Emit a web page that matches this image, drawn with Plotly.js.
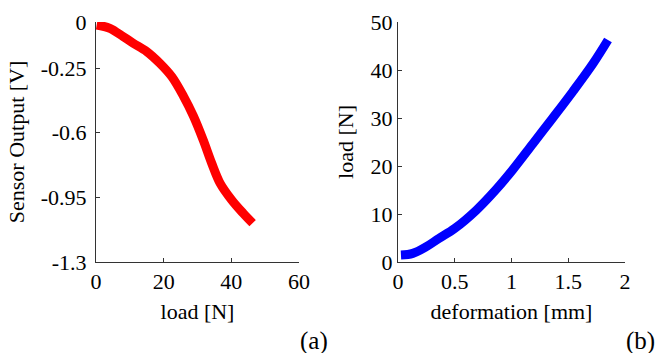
<!DOCTYPE html>
<html>
<head>
<meta charset="utf-8">
<script src="https://cdn.plot.ly/plotly-3.0.1.min.js"></script>
<style>html,body{margin:0;padding:0;background:#fff;}#chart{width:656px;height:353px;}</style>
</head>
<body>
<div id="chart"></div>
<script>
// Panel (a): sensor output vs load
var loadA = [0.2, 4.1, 8.1, 11.0, 15.0, 18.9, 22.4, 25.8, 28.8, 31.7, 34.2, 36.7, 40.1, 43.5, 46.3];
var sensorOut = [-0.016, -0.034, -0.08, -0.115, -0.16, -0.224, -0.296, -0.40, -0.51, -0.64, -0.765, -0.874, -0.964, -1.036, -1.09];
// Panel (b): load vs deformation
var deformation = [0.026, 0.13, 0.25, 0.36, 0.50, 0.69, 0.86, 1.01, 1.19, 1.36, 1.54, 1.72, 1.85];
var loadB = [1.46, 1.8, 3.2, 4.9, 7.0, 10.8, 15.0, 19.2, 24.7, 29.9, 35.5, 41.4, 46.25];

var xTicksA = [0, 20, 40, 60];
var yTicksA = [0, -0.25, -0.6, -0.95, -1.3];
var yTickTextA = ['0', '-0.25', '-0.6', '-0.95', '-1.3'];
var xTicksB = [0, 0.5, 1, 1.5, 2];
var xTickTextB = ['0', '0.5', '1', '1.5', '2'];
var yTicksB = [0, 10, 20, 30, 40, 50];

var font = 'Liberation Serif, Times New Roman, serif';
var axCommon = {
  showline: true, linecolor: '#333', linewidth: 1, mirror: false,
  ticks: 'inside', ticklen: 4, tickcolor: '#333', tickwidth: 1,
  showgrid: false, zeroline: false, automargin: false,
  tickfont: {family: font, size: 22, color: '#000'}
};
function ax(extra) { return Object.assign({}, axCommon, extra); }
var titleFont = {family: font, size: 22, color: '#000'};

var traces = [
  {x: loadA, y: sensorOut, xaxis: 'x', yaxis: 'y', mode: 'lines',
   line: {color: '#ff0000', width: 9, shape: 'spline'}},
  {x: deformation, y: loadB, xaxis: 'x2', yaxis: 'y2', mode: 'lines',
   line: {color: '#0000ff', width: 9, shape: 'spline'}}
];

var W = 656, H = 353;
var layout = {
  width: W, height: H,
  margin: {l: 0, r: 0, t: 0, b: 0},
  paper_bgcolor: '#fff', plot_bgcolor: 'rgba(0,0,0,0)',
  showlegend: false,
  font: {family: font, color: '#000'},
  xaxis: ax({domain: [96 / W, 299 / W], range: [0, 60], anchor: 'y',
    tickvals: xTicksA, ticktext: xTicksA.map(String),
    title: {text: 'load [N]', font: titleFont, standoff: 10}}),
  yaxis: ax({domain: [1 - 262 / H, 1 - 22 / H], range: [-1.3, 0], anchor: 'x',
    tickvals: yTicksA, ticktext: yTickTextA, ticklabelstandoff: 4,
    title: {text: 'Sensor Output [V]', font: titleFont, standoff: 10}}),
  xaxis2: ax({domain: [398 / W, 625 / W], range: [0, 2], anchor: 'y2',
    tickvals: xTicksB, ticktext: xTickTextB,
    title: {text: 'deformation [mm]', font: titleFont, standoff: 10}}),
  yaxis2: ax({domain: [1 - 262 / H, 1 - 22 / H], range: [0, 50], anchor: 'x2',
    tickvals: yTicksB, ticktext: yTicksB.map(String),
    title: {text: 'load [N]', font: titleFont, standoff: 10}}),
  annotations: [
    {text: '(a)', xref: 'paper', yref: 'paper', x: 314 / W, y: 1 - 341 / H,
     showarrow: false, xanchor: 'center', yanchor: 'middle', font: {family: font, size: 25, color: '#000'}},
    {text: '(b)', xref: 'paper', yref: 'paper', x: 640 / W, y: 1 - 341 / H,
     showarrow: false, xanchor: 'center', yanchor: 'middle', font: {family: font, size: 25, color: '#000'}}
  ]
};

Plotly.newPlot('chart', traces, layout, {staticPlot: true, displayModeBar: false});
</script>
</body>
</html>
